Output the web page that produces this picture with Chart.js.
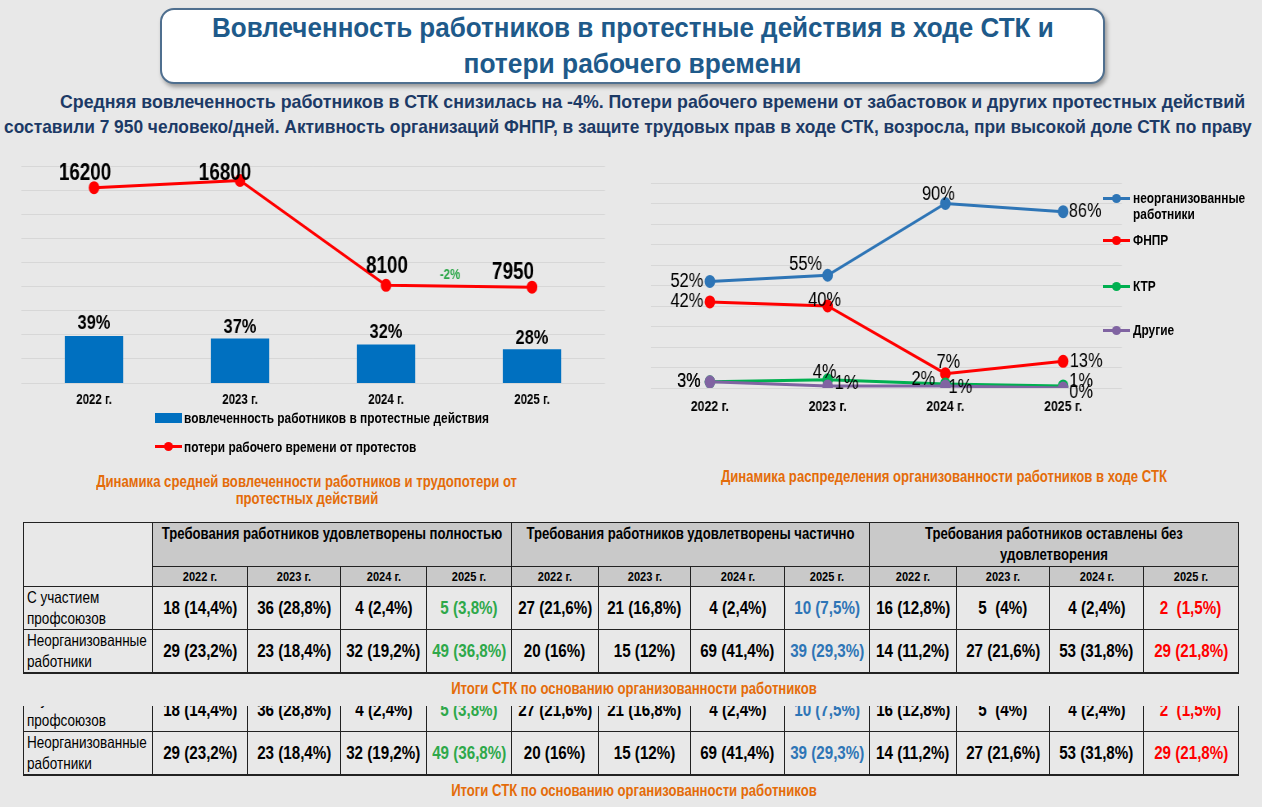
<!DOCTYPE html>
<html lang="ru">
<head>
<meta charset="utf-8">
<script src="https://cdn.jsdelivr.net/npm/chart.js@4.4.0/dist/chart.umd.min.js"></script>
<style>
  body {
    margin: 0;
    width: 1262px;
    height: 807px;
    overflow: hidden;
    position: relative;
    background: #e8e8e8;
    font-family: "Liberation Sans", Arial, sans-serif;
  }
  .abs { position: absolute; }
  .nx { display: inline-block; white-space: nowrap; transform: scaleX(0.82); }
  .ctr { display: flex; justify-content: center; }
  #titleBox {
    left: 160px; top: 8px; width: 941px; height: 72px;
    background: #fff;
    border: 2px solid #4f6f8f;
    border-radius: 14px;
    box-shadow: 2px 3px 4px rgba(0,0,0,0.35);
    color: #1e5a8a;
    font-weight: bold;
    font-size: 28px;
    line-height: 36px;
  }
  .sub {
    white-space: nowrap;
    color: #1c3a66;
    font-weight: bold;
    font-size: 18.5px;
    line-height: 25px;
    transform-origin: left center;
  }
  .caption {
    color: #e46c0a;
    font-weight: bold;
    font-size: 16px;
    line-height: 17px;
  }
  .legend {
    font-weight: bold;
    font-size: 14.5px;
    line-height: 16px;
    color: #000;
    transform-origin: left center;
  }
  .mark { position: absolute; }
  #tableWrap { left: 0; top: 522px; width: 1262px; height: 290px; }
  table {
    position: absolute; left: 23px; top: 0;
    border-collapse: collapse;
    table-layout: fixed;
    width: 1215px;
  }
  th, td { border: 1px solid #222; padding: 0; text-align: center; }
  th.group {
    background: #c9c9c9; font-size: 16px; font-weight: bold;
    vertical-align: top; line-height: 21px; height: 43px; padding-top: 0;
  }
  th.group .nx { white-space: normal; }
  th.corner { background: transparent; }
  th.year { background: #c9c9c9; font-size: 13.5px; font-weight: bold; height: 19px; }
  td { font-size: 18.5px; font-weight: bold; height: 42px; }
  td.rowLabel { font-size: 16.5px; font-weight: normal; text-align: left; padding-left: 3px; line-height: 21px; }
  td.rowLabel .nx { transform-origin: left center; }
  tr.last td { border-bottom: 2px solid #222; }
</style>
</head>
<body>

<div id="titleBox" class="abs">
  <div class="ctr"><span class="nx fit" data-w="842">Вовлеченность работников в протестные действия в ходе СТК и</span></div>
  <div class="ctr"><span class="nx fit" data-w="338">потери рабочего времени</span></div>
</div>
<div class="abs sub" style="left:60px; top:89px;"><span class="nx fit sub" data-w="1185">Средняя вовлеченность работников в СТК снизилась на -4%. Потери рабочего времени от забастовок и других протестных действий</span></div>
<div class="abs sub" style="left:4px; top:114px;"><span class="nx fit sub" data-w="1248">составили 7 950 человеко/дней. Активность организаций ФНПР, в защите трудовых прав в ходе СТК, возросла, при высокой доле СТК по праву</span></div>

<canvas id="leftChart" class="abs" width="762" height="261" style="left:0; top:150px; width:625px; height:261px;"></canvas>
<canvas id="rightChart" class="abs" width="683" height="266" style="left:600px; top:150px; width:560px; height:266px;"></canvas>

<div id="leftLegend"></div>
<div id="rightLegend"></div>

<div class="abs caption" style="left:57px; top:473px; width:500px;">
  <div class="ctr"><span class="nx">Динамика средней вовлеченности работников и трудопотери от</span></div>
  <div class="ctr"><span class="nx">протестных действий</span></div>
</div>
<div class="abs caption ctr" style="left:694px; top:468px; width:500px;"><span class="nx">Динамика распределения организованности работников в ходе СТК</span></div>

<div id="tableWrap" class="abs"></div>
<div id="clip" class="abs" style="left:0; top:706px; width:1262px; height:101px; overflow:hidden;"></div>

<script>
// chart data
const years = ['2022 г.', '2023 г.', '2024 г.', '2025 г.'];
const involvement = [39, 37, 32, 28];
const lostDays = [16200, 16800, 8100, 7950];

const unorganized = [52, 55, 90, 86];
const fnpr = [42, 40, 7, 13];
const ktr = [3, 4, 2, 1];
const others = [3, 1, 1, 0];

// table data
const groups = [
  'Требования работников удовлетворены полностью',
  'Требования работников удовлетворены частично',
  'Требования работников оставлены без удовлетворения'
];
const groupColors = ['#2ea84a', '#2e75b6', '#ff0000'];
const rowLabels = ['С участием<br>профсоюзов', 'Неорганизованные<br>работники'];
const unionRow = ['18 (14,4%)', '36 (28,8%)', '4 (2,4%)', '5 (3,8%)', '27 (21,6%)', '21 (16,8%)', '4 (2,4%)', '10 (7,5%)', '16 (12,8%)', '5&nbsp; (4%)', '4 (2,4%)', '2&nbsp; (1,5%)'];
const unorgRow = ['29 (23,2%)', '23 (18,4%)', '32 (19,2%)', '49 (36,8%)', '20 (16%)', '15 (12%)', '69 (41,4%)', '39 (29,3%)', '14 (11,2%)', '27 (21,6%)', '53 (31,8%)', '29 (21,8%)'];
const colWidths = [129, 95, 93, 86, 85, 87, 92, 94, 85, 87, 93, 94, 95];

const SQ = 0.82; // canvases are squeezed horizontally like the slide
const fontFam = '"Liberation Sans", Arial, sans-serif';

// value labels next to points / bars (offsets are in screen px)
const valueLabels = {
  id: 'valueLabels',
  afterDatasetsDraw(chart) {
    const ctx = chart.ctx;
    chart.data.datasets.forEach((ds, di) => {
      const st = ds.labelStyle;
      if (!st) return;
      const meta = chart.getDatasetMeta(di);
      meta.data.forEach((el, i) => {
        const off = st.offsets[i];
        ctx.save();
        ctx.font = st.font;
        ctx.fillStyle = st.color || '#000';
        ctx.textAlign = 'center';
        ctx.textBaseline = 'middle';
        ctx.fillText(st.format(ds.data[i]), el.x + off[0] / SQ, el.y + off[1]);
        ctx.restore();
      });
    });
    const ch = chart.options.plugins.valueLabels && chart.options.plugins.valueLabels.change;
    if (ch) {
      const meta = chart.getDatasetMeta(ch.dataset);
      const a = meta.data[ch.from], b = meta.data[ch.to];
      const d = chart.data.datasets[ch.dataset].data;
      const pct = Math.round((d[ch.to] - d[ch.from]) / d[ch.from] * 100);
      ctx.save();
      ctx.font = ch.font;
      ctx.fillStyle = ch.color;
      ctx.textAlign = 'center';
      ctx.textBaseline = 'middle';
      ctx.fillText(pct + '%', (a.x + b.x) / 2 - 9 / SQ, (a.y + b.y) / 2 - 11);
      ctx.restore();
    }
  }
};

new Chart(document.getElementById('leftChart'), {
  data: {
    labels: years,
    datasets: [
      {
        type: 'line',
        label: 'потери рабочего времени от протестов',
        data: lostDays,
        yAxisID: 'y2',
        borderColor: '#ff0000',
        backgroundColor: '#ff0000',
        borderWidth: 3,
        pointRadius: 5,
        tension: 0,
        order: 0,
        labelStyle: {
          font: 'bold 23px ' + fontFam,
          offsets: [[-9, -14], [-15, -7], [1, -19], [-19, -15]],
          format: v => String(v)
        }
      },
      {
        type: 'bar',
        label: 'вовлеченность работников в протестные действия',
        data: involvement,
        yAxisID: 'y',
        backgroundColor: '#0070c0',
        barPercentage: 0.4,
        categoryPercentage: 1,
        order: 1,
        labelStyle: {
          font: 'bold 20px ' + fontFam,
          offsets: [[0, -12], [0, -11], [0, -12], [0, -11]],
          format: v => v + '%'
        }
      }
    ]
  },
  options: {
    responsive: false,
    animation: false,
    layout: { padding: { left: 21 / SQ, right: 20 / SQ, top: 16, bottom: 0 } },
    plugins: {
      legend: { display: false },
      tooltip: { enabled: false },
      valueLabels: { change: { dataset: 0, from: 2, to: 3, font: 'bold 14px ' + fontFam, color: '#2ea84a' } }
    },
    scales: {
      x: {
        grid: { display: false, drawTicks: false },
        border: { display: false },
        ticks: { color: '#000', font: { family: fontFam, size: 14, weight: 'bold' }, padding: 9 },
        afterFit: s => { s.height = 28; }
      },
      y: { display: false, min: 0, max: 180 },
      y2: {
        position: 'left',
        min: 0, max: 18000,
        ticks: { display: false, stepSize: 2000 },
        grid: { color: 'rgba(0,0,0,0.07)', drawTicks: false },
        border: { display: false },
        afterFit: s => { s.width = 0; }
      }
    }
  },
  plugins: [valueLabels]
});

function lineSet(label, data, color, order, offsets) {
  return {
    label: label,
    data: data,
    borderColor: color,
    backgroundColor: color,
    borderWidth: 3,
    pointRadius: 5,
    tension: 0,
    order: order,
    labelStyle: { font: '20px ' + fontFam, offsets: offsets, format: v => v + '%' }
  };
}

new Chart(document.getElementById('rightChart'), {
  type: 'line',
  data: {
    labels: years,
    datasets: [
      lineSet('неорганизованные работники', unorganized, '#2e75b6', 3, [[-23, 0], [-22, -11], [-7, -9], [22, 0]]),
      lineSet('ФНПР', fnpr, '#ff0000', 2, [[-23, 0], [-3, -6], [3, -11], [23, 0]]),
      lineSet('КТР', ktr, '#00b050', 1, [[-21, 0], [-3, -7], [-22, -4], [18, -4]]),
      lineSet('Другие', others, '#8064a2', 0, [[-21, 0], [19, -2], [15, 2], [18, 4]])
    ]
  },
  options: {
    responsive: false,
    animation: false,
    layout: { padding: { left: 51 / SQ, right: 38 / SQ, top: 33, bottom: 0 } },
    plugins: { legend: { display: false }, tooltip: { enabled: false } },
    scales: {
      x: {
        offset: true,
        grid: { display: false, drawTicks: false },
        border: { display: false },
        ticks: { color: '#000', font: { family: fontFam, size: 15, weight: 'bold' }, padding: 10 },
        afterFit: s => { s.height = 28; }
      },
      y: {
        min: 0, max: 100,
        ticks: { display: false, stepSize: 10 },
        grid: { color: 'rgba(0,0,0,0.07)', drawTicks: false },
        border: { display: false },
        afterFit: s => { s.width = 0; }
      }
    }
  },
  plugins: [valueLabels]
});

// legends
document.getElementById('leftLegend').innerHTML =
  '<div class="mark" style="left:155px; top:413px; width:27px; height:10px; background:#0070c0;"></div>' +
  '<div class="abs legend" style="left:184px; top:410px;"><span class="nx legend">вовлеченность работников в протестные действия</span></div>' +
  '<div class="mark" style="left:155px; top:445px; width:27px; height:3px; background:#ff0000;"></div>' +
  '<div class="mark" style="left:164px; top:442px; width:9px; height:9px; border-radius:50%; background:#ff0000;"></div>' +
  '<div class="abs legend" style="left:184px; top:439px;"><span class="nx legend">потери рабочего времени от протестов</span></div>';

const rightItems = [
  ['неорганизованные<br>работники', '#2e75b6', 198],
  ['ФНПР', '#ff0000', 240],
  ['КТР', '#00b050', 286],
  ['Другие', '#8064a2', 330]
];
const rightLegend = document.getElementById('rightLegend');
rightItems.forEach(it => {
  rightLegend.innerHTML +=
    '<div class="mark" style="left:1103px; top:' + (it[2] - 1.5) + 'px; width:27px; height:3px; background:' + it[1] + ';"></div>' +
    '<div class="mark" style="left:1112px; top:' + (it[2] - 4.5) + 'px; width:9px; height:9px; border-radius:50%; background:' + it[1] + ';"></div>' +
    '<div class="abs legend" style="left:1133px; top:' + (it[2] - 8) + 'px;"><span class="nx legend">' + it[0] + '</span></div>';
});

// table
const cell = v => '<div class="ctr"><span class="nx">' + v + '</span></div>';
let html = '<table><colgroup>' + colWidths.map(w => '<col style="width:' + w + 'px">').join('') + '</colgroup>';
html += '<tr><th class="group corner" rowspan="2"></th>' + groups.map((g, gi) => {
  const w = colWidths.slice(1 + gi * 4, 5 + gi * 4).reduce((a, b) => a + b, 0);
  return '<th class="group" colspan="4"><div class="ctr"><span class="nx" style="width:' + Math.round(w / SQ - 20) + 'px; flex:none; text-align:center;">' + g + '</span></div></th>';
}).join('') + '</tr>';
html += '<tr>' + groups.map(() => years.map(y => '<th class="year">' + cell(y) + '</th>').join('')).join('') + '</tr>';
[unionRow, unorgRow].forEach((row, r) => {
  html += '<tr' + (r === 1 ? ' class="last"' : '') + '><td class="rowLabel"><span class="nx">' + rowLabels[r] + '</span></td>';
  row.forEach((v, i) => {
    const c = (i % 4 === 3) ? groupColors[Math.floor(i / 4)] : '#000';
    html += '<td style="color:' + c + '">' + cell(v) + '</td>';
  });
  html += '</tr>';
});
html += '</table>';
html += '<div class="abs caption ctr" style="left:384px; top:158px; width:500px;"><span class="nx">Итоги СТК по основанию организованности работников</span></div>';
const tableWrap = document.getElementById('tableWrap');
tableWrap.innerHTML = html;

// clipped repeat of the table lower on the slide
const copy = tableWrap.cloneNode(true);
copy.removeAttribute('id');
copy.style.left = '0px';
copy.style.top = '-82px';
copy.style.width = '1262px';
copy.style.height = '290px';
document.getElementById('clip').appendChild(copy);

// fit the long headline texts to the slide widths
document.querySelectorAll('.fit').forEach(el => {
  const w = el.offsetWidth;
  el.style.transform = 'scaleX(' + (Number(el.dataset.w) / w) + ')';
});
</script>
</body>
</html>
